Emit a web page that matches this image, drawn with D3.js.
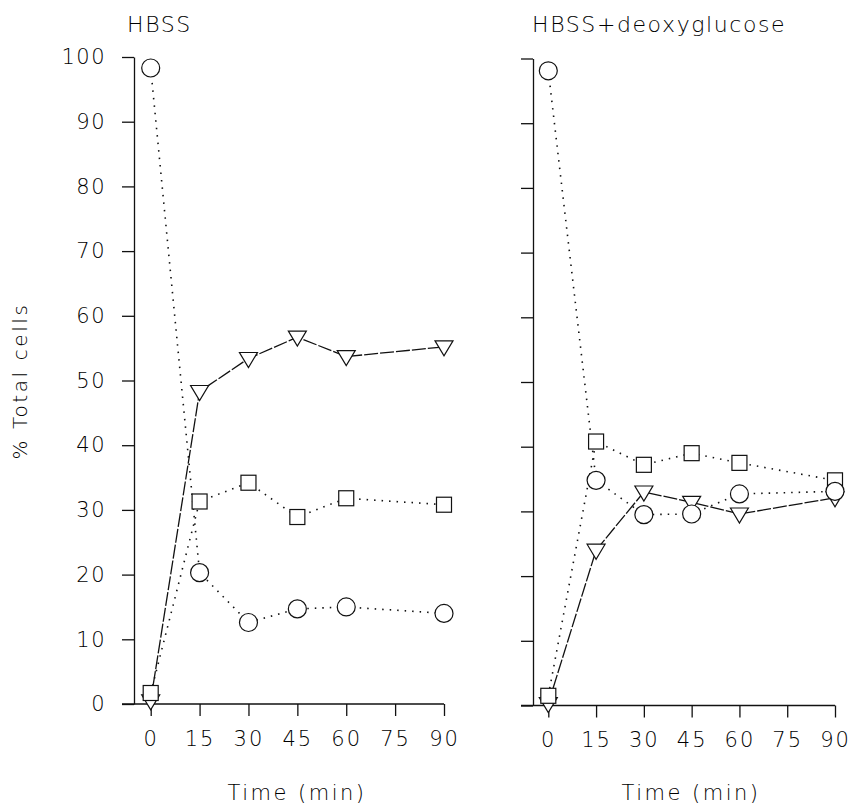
<!DOCTYPE html>
<html>
<head>
<meta charset="utf-8">
<script src="https://cdn.jsdelivr.net/npm/d3@7"></script>
<style>
  body { margin: 0; background: #fff; }
  text { font-family: "DejaVu Sans", "Liberation Sans", sans-serif; font-weight: 200; fill: #000; }
</style>
</head>
<body>
<div id="chart"></div>
<script>
// data (% total cells vs time)
var times = [0, 15, 30, 45, 60, 90];
var xTicks = [0, 15, 30, 45, 60, 75, 90];
var yTicks = [0, 10, 20, 30, 40, 50, 60, 70, 80, 90, 100];

var hbssCircle   = [98.3, 20.3, 12.6, 14.7, 15.0, 14.0];
var hbssSquare   = [1.7, 31.3, 34.2, 28.9, 31.8, 30.8];
var hbssTriangle = [0.5, 48.3, 53.4, 56.7, 53.7, 55.2];

var deoxyCircle   = [98.1, 34.8, 29.5, 29.6, 32.7, 33.1];
var deoxySquare   = [1.5, 40.8, 37.2, 39.0, 37.5, 34.8];
var deoxyTriangle = [0.3, 24.0, 33.0, 31.4, 29.6, 32.1];

var panelTitles = ["HBSS", "HBSS+deoxyglucose"];

//Width and height
var w = 851;
var h = 807;

var svg = d3.select("#chart")
			.append("svg")
			.attr("width", w)
			.attr("height", h);

var panels = [
	{title: panelTitles[0], axisX: 134, x0: 150.7, x1: 444, yBottom: 704, yTop: 57,
	 circle: hbssCircle, square: hbssSquare, triangle: hbssTriangle, labels: true, titleX: 127, timeX: 297},
	{title: panelTitles[1], axisX: 533, x0: 548.3, x1: 835, yBottom: 705.5, yTop: 58.5,
	 circle: deoxyCircle, square: deoxySquare, triangle: deoxyTriangle, labels: false, titleX: 532, timeX: 691}
];

panels.forEach(function(p) {
	var x = d3.scaleLinear().domain([0, 90]).range([p.x0, p.x1]);
	var y = d3.scaleLinear().domain([0, 100]).range([p.yBottom, p.yTop]);
	var g = svg.append("g");

	// y axis
	var yAxis = d3.axisLeft(y)
				  .tickValues(yTicks)
				  .tickSize(12)
				  .tickSizeOuter(0)
				  .tickPadding(16)
				  .tickFormat(p.labels ? d3.format("d") : function() { return ""; });
	var ya = g.append("g")
			  .attr("transform", "translate(" + p.axisX + ",0)")
			  .call(yAxis);
	ya.selectAll("line, path").attr("stroke", "#111").attr("stroke-width", 1.3);
	ya.selectAll("text")
	  .attr("font-size", "21px")
	  .attr("letter-spacing", "1.5px")
	  .style("font-family", "DejaVu Sans, sans-serif");

	// x axis
	var xAxis = d3.axisBottom(x)
				  .tickValues(xTicks)
				  .tickSize(12)
				  .tickSizeOuter(0)
				  .tickPadding(15);
	var xa = g.append("g")
			  .attr("transform", "translate(0," + p.yBottom + ")")
			  .call(xAxis);
	xa.select(".domain").remove();
	xa.selectAll("line").attr("stroke", "#111").attr("stroke-width", 1.3);
	xa.selectAll("text")
	  .attr("font-size", "21px")
	  .attr("letter-spacing", "2px");
	xa.append("line")
	  .attr("x1", p.axisX - 12)
	  .attr("x2", x(90))
	  .attr("y1", 0)
	  .attr("y2", 0)
	  .attr("stroke", "#111")
	  .attr("stroke-width", 1.3);

	// titles
	g.append("text")
	 .attr("x", p.titleX)
	 .attr("y", 32)
	 .attr("font-size", "22px")
	 .attr("letter-spacing", "1.6px")
	 .text(p.title);

	g.append("text")
	 .attr("x", p.timeX)
	 .attr("y", 800)
	 .attr("text-anchor", "middle")
	 .attr("font-size", "21px")
	 .attr("letter-spacing", "2.5px")
	 .text("Time (min)");

	// lines
	var line = d3.line()
				 .x(function(d, i) { return x(times[i]); })
				 .y(function(d) { return y(d); });

	g.append("path").datum(p.circle)
	 .attr("d", line).attr("fill", "none")
	 .attr("stroke", "#111").attr("stroke-width", 1.6)
	 .attr("stroke-dasharray", "1.5,6");
	g.append("path").datum(p.square)
	 .attr("d", line).attr("fill", "none")
	 .attr("stroke", "#111").attr("stroke-width", 1.6)
	 .attr("stroke-dasharray", "1.5,6");
	g.append("path").datum(p.triangle)
	 .attr("d", line).attr("fill", "none")
	 .attr("stroke", "#111").attr("stroke-width", 1.3)
	 .attr("stroke-dasharray", "14,2");

	// markers
	g.selectAll(".tri")
	 .data(p.triangle)
	 .enter()
	 .append("path")
	 .attr("class", "tri")
	 .attr("d", "M-9,-6L9,-6L0,9Z")
	 .attr("transform", function(d, i) { return "translate(" + x(times[i]) + "," + y(d) + ")"; })
	 .attr("fill", "white")
	 .attr("stroke", "#111")
	 .attr("stroke-width", 1.2);

	g.selectAll(".sq")
	 .data(p.square)
	 .enter()
	 .append("rect")
	 .attr("class", "sq")
	 .attr("x", function(d, i) { return x(times[i]) - 7.5; })
	 .attr("y", function(d) { return y(d) - 7.5; })
	 .attr("width", 15)
	 .attr("height", 15)
	 .attr("fill", "white")
	 .attr("stroke", "#111")
	 .attr("stroke-width", 1.2);

	g.selectAll(".circ")
	 .data(p.circle)
	 .enter()
	 .append("circle")
	 .attr("class", "circ")
	 .attr("cx", function(d, i) { return x(times[i]); })
	 .attr("cy", function(d) { return y(d); })
	 .attr("r", 9)
	 .attr("fill", "white")
	 .attr("stroke", "#111")
	 .attr("stroke-width", 1.2);
});

// y axis title
svg.append("text")
   .attr("transform", "translate(27,381) rotate(-90)")
   .attr("text-anchor", "middle")
   .attr("font-size", "20px")
   .attr("letter-spacing", "2.6px")
   .text("% Total cells");
</script>
</body>
</html>
